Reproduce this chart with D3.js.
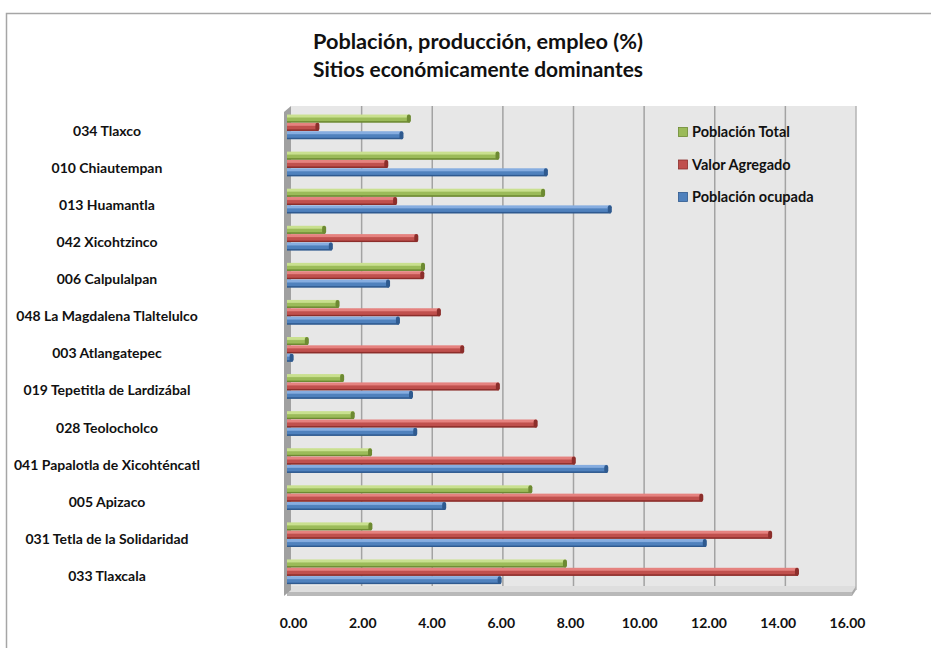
<!DOCTYPE html>
<html>
<head>
<meta charset="utf-8">
<script src="https://cdn.jsdelivr.net/npm/d3@7/dist/d3.min.js"></script>
<style>
  html, body { margin: 0; padding: 0; background: #ffffff; }
  svg { display: block; }
  text { font-family: Lato, "Open Sans", "DejaVu Sans", sans-serif; font-weight: 700; fill: #111; }
</style>
</head>
<body>
<svg id="chart" width="931" height="648"></svg>
<script>
// Municipalities, top to bottom
const categories = [
  "034 Tlaxco",
  "010 Chiautempan",
  "013 Huamantla",
  "042 Xicohtzinco",
  "006 Calpulalpan",
  "048 La Magdalena  Tlaltelulco",
  "003 Atlangatepec",
  "019 Tepetitla de Lardizábal",
  "028 Teolocholco",
  "041 Papalotla de Xicohténcatl",
  "005 Apizaco",
  "031 Tetla de la Solidaridad",
  "033 Tlaxcala"
];

// Share (%) per municipality
const poblacionTotal   = [3.48, 5.99, 7.28, 1.08, 3.88, 1.46, 0.59, 1.59, 1.89, 2.38, 6.92, 2.39, 7.90];
const valorAgregado    = [0.89, 2.84, 3.09, 3.69, 3.86, 4.33, 4.99, 6.00, 7.07, 8.15, 11.76, 13.71, 14.47];
const poblacionOcupada = [3.27, 7.36, 9.17, 1.27, 2.89, 3.17, 0.16, 3.54, 3.66, 9.07, 4.48, 11.86, 6.05];

const seriesNames = ["Población Total", "Valor Agregado", "Población ocupada"];
const seriesValues = [poblacionTotal, valorAgregado, poblacionOcupada];

const xTicks = [0, 2, 4, 6, 8, 10, 12, 14, 16];
const titleLines = ["Población, producción, empleo (%)", "Sitios económicamente dominantes"];

// Office-style palette: base, light highlight, dark edge
const palette = [
  { base: "#9bbb59", light: "#c9e08f", dark: "#6d8a32" },
  { base: "#c0504d", light: "#e5827f", dark: "#8c2e2b" },
  { base: "#4f81bd", light: "#86ade0", dark: "#2f5a8f" }
];

const svg = d3.select("#chart");

// Outer chart frame (only top and left edges fall inside the view)
svg.append("path")
  .attr("d", "M6.5,648 V13.5 H931")
  .attr("fill", "none")
  .attr("stroke", "#a6a6a6")
  .attr("stroke-width", 1.5);

// Title
const title = svg.append("g");
titleLines.forEach((t, i) => {
  title.append("text")
    .attr("x", 478)
    .attr("y", 49 + i * 28)
    .attr("text-anchor", "middle")
    .attr("font-size", 20.5)
    .attr("textLength", 330)
    .attr("lengthAdjust", "spacingAndGlyphs")
    .text(t);
});

// Scales
const depth = 4;          // horizontal shift between the bars and the back wall
const x = d3.scaleLinear().domain([0, 16]).range([287, 852]);
// projected positions of the value labels below the floor
const xLabel = d3.scaleLinear().domain([0, 16]).range([293, 847]);
const y = d3.scaleBand().domain(categories).range([110.5, 592.5]).paddingInner(0).paddingOuter(0);
const groupH = 25;
const ySeries = d3.scaleBand().domain(d3.range(seriesNames.length)).range([0, groupH]);

const wallTop = 106, wallBottom = 586;
const wallLeft = x(0) + depth, wallRight = x(16) + depth;

// Gradients for the bevelled bars
const defs = svg.append("defs");
palette.forEach((c, i) => {
  const g = defs.append("linearGradient")
    .attr("id", "bar" + i).attr("x1", 0).attr("y1", 0).attr("x2", 0).attr("y2", 1);
  g.append("stop").attr("offset", "0%").attr("stop-color", c.light);
  g.append("stop").attr("offset", "30%").attr("stop-color", c.light);
  g.append("stop").attr("offset", "45%").attr("stop-color", c.base);
  g.append("stop").attr("offset", "75%").attr("stop-color", c.base);
  g.append("stop").attr("offset", "100%").attr("stop-color", c.dark);
});

// Back wall
svg.append("rect")
  .attr("x", wallLeft).attr("y", wallTop)
  .attr("width", wallRight - wallLeft).attr("height", wallBottom - wallTop)
  .attr("fill", "#e7e7e7");

// Vertical gridlines on the back wall, with slanted ticks across the floor
const grid = svg.append("g");
xTicks.filter(v => v > 0 && v < 16).forEach(v => {
  grid.append("line")
    .attr("x1", x(v) + depth).attr("x2", x(v) + depth)
    .attr("y1", wallTop).attr("y2", wallBottom)
    .attr("stroke", "#a3a3a3").attr("stroke-width", 1.5);
});

// Floor
svg.append("path")
  .attr("d", `M${wallLeft},${wallBottom} H${wallRight} L${x(16)},${wallBottom + 6} H${x(0)} Z`)
  .attr("fill", "#dedede");
xTicks.filter(v => v > 0 && v < 16).forEach(v => {
  grid.append("line")
    .attr("x1", x(v) + depth).attr("x2", x(v))
    .attr("y1", wallBottom).attr("y2", wallBottom + 6)
    .attr("stroke", "#a3a3a3").attr("stroke-width", 1.2);
});
svg.append("rect")
  .attr("x", x(0)).attr("y", wallBottom + 6)
  .attr("width", x(16) - x(0)).attr("height", 4)
  .attr("fill", "#b9b9b9");
svg.append("path")
  .attr("d", `M${x(16)},${wallBottom + 6} L${wallRight},${wallBottom} V${wallBottom + 4} L${x(16)},${wallBottom + 10} Z`)
  .attr("fill", "#a9a9a9");

// Right edge of the wall
svg.append("line")
  .attr("x1", wallRight).attr("x2", wallRight)
  .attr("y1", wallTop).attr("y2", wallBottom + 4)
  .attr("stroke", "#b5b5b5").attr("stroke-width", 1.5);

// Left side wall seen edge-on
svg.append("path")
  .attr("d", `M${x(0) - 3},${wallTop + 6} L${wallLeft},${wallTop} V${wallBottom + 4} L${x(0) - 3},${wallBottom + 10} Z`)
  .attr("fill", "#a0a0a0");

// Bars
const barH = ySeries.bandwidth() - 0.4;
const rows = svg.append("g");
categories.forEach((cat, ci) => {
  const top = y(cat) + (y.bandwidth() - groupH) / 2 - 2;
  seriesValues.forEach((vals, si) => {
    const c = palette[si];
    const by = top + ySeries(si);
    const x0 = x(0), x1 = x(vals[ci]);
    const g = rows.append("g");
    g.append("rect")
      .attr("x", x0).attr("y", by)
      .attr("width", Math.max(0, x1 - x0)).attr("height", barH)
      .attr("fill", `url(#bar${si})`);
    // bottom edge
    g.append("rect")
      .attr("x", x0).attr("y", by + barH - 1.2)
      .attr("width", Math.max(0, x1 - x0)).attr("height", 1.2)
      .attr("fill", c.dark);
    // rounded end face
    g.append("rect")
      .attr("x", x1 - 3).attr("y", by)
      .attr("width", 4).attr("height", barH)
      .attr("rx", 2).attr("ry", 2)
      .attr("fill", c.dark);
  });
});

// Category labels
categories.forEach(cat => {
  svg.append("text")
    .attr("x", 107)
    .attr("y", y(cat) + y.bandwidth() / 2 + 2)
    .attr("dy", "0.35em")
    .attr("text-anchor", "middle")
    .attr("font-size", 14)
    .text(cat);
});

// Value axis labels
const xAxis = d3.axisBottom(xLabel)
  .tickValues(xTicks)
  .tickFormat(d3.format(".2f"))
  .tickSize(0)
  .tickPadding(0);
const axisG = svg.append("g")
  .attr("transform", "translate(0,618)")
  .call(xAxis);
axisG.select(".domain").remove();
axisG.selectAll("text")
  .attr("font-size", 14)
  .attr("font-family", "Lato, 'Open Sans', sans-serif")
  .attr("font-weight", 700)
  .attr("fill", "#111");

// Legend
const legend = svg.append("g").attr("transform", "translate(678,132)");
seriesNames.forEach((name, i) => {
  const row = legend.append("g").attr("transform", `translate(0,${i * 32.5})`);
  row.append("rect")
    .attr("x", 0.5).attr("y", -4.5)
    .attr("width", 9).attr("height", 9)
    .attr("fill", palette[i].base)
    .attr("stroke", palette[i].dark).attr("stroke-width", 0.8);
  row.append("text")
    .attr("x", 14).attr("y", 0)
    .attr("dy", "0.35em")
    .attr("font-size", 14.5)
    .text(name);
});
</script>
</body>
</html>
